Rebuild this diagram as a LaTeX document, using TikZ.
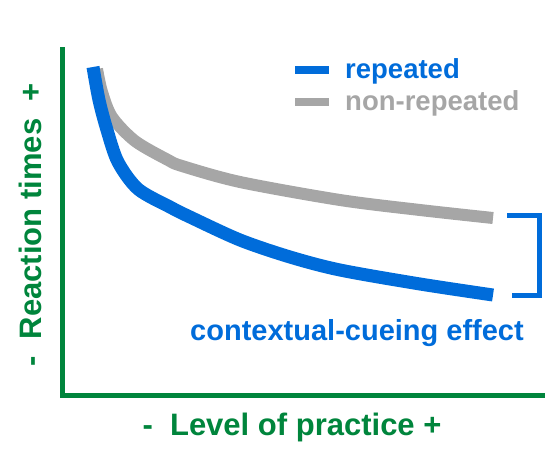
\documentclass[tikz,border=0pt]{standalone}
\usepackage{fontspec}
\setmainfont{Liberation Sans}
\definecolor{axgreen}{RGB}{0,133,60}
\definecolor{cblue}{RGB}{0,108,218}
\definecolor{cgray}{RGB}{166,166,166}
\begin{document}
\begin{tikzpicture}[x=1pt,y=-1pt,
  axis/.style={draw=axgreen,line width=5pt},
  bigtxt/.style={text=axgreen,font=\bfseries\fontsize{31}{31}\selectfont,inner sep=0pt},
  legtxt/.style={font=\bfseries\fontsize{27.5}{27.5}\selectfont,inner sep=0pt,anchor=base west},
  curve/.style={line width=12pt,line cap=butt,line join=round}]
\useasboundingbox (0,0) rectangle (551,455);
% axes
\coordinate (top) at (62,47);
\coordinate (orig) at (62,395);
\coordinate (right) at (545,395);
\draw[axis] (top) -- (orig) -- (right);
% axis labels
\node[bigtxt,rotate=90] (ylab) at (30,225) {-\ \ Reaction times\ \ +};
\node[bigtxt,anchor=base] (xlab) at (292,435) {-\ \ Level of practice +};
% curves
\draw[curve,cgray] plot[smooth,tension=0.5] coordinates {(97,69) (102,92) (112,117) (135,141) (168,160) (182,166) (240,182) (340,200) (420,210) (493,218)};
\draw[curve,cblue,line width=13pt] plot[smooth,tension=0.5] coordinates {(93,67) (99,100) (107,130) (118,162) (138,189) (170,207) (190,217) (240,240) (290,257) (340,270) (420,284) (493,295)};
% legend
\coordinate (lb1) at (295,69.5);
\coordinate (lb2) at (329,69.5);
\coordinate (lg1) at (295,101.5);
\coordinate (lg2) at (329,101.5);
\draw[cblue,line width=8pt] (lb1) -- (lb2);
\draw[cgray,line width=8pt] (lg1) -- (lg2);
\node[legtxt,text=cblue] (lrep) at (345,78) {repeated};
\node[legtxt,text=cgray] (lnon) at (345,110) {non-repeated};
% bracket
\coordinate (b1) at (507,215);
\coordinate (b2) at (539,215);
\coordinate (b3) at (539,295);
\coordinate (b4) at (512,295);
\draw[cblue,line width=5pt,line join=miter] (b1) -- (b2) -- (b3) -- (b4);
\node[text=cblue,font=\bfseries\fontsize{29}{29}\selectfont,inner sep=0pt,anchor=base] (eff) at (357,340) {contextual-cueing effect};
\end{tikzpicture}
\end{document}
